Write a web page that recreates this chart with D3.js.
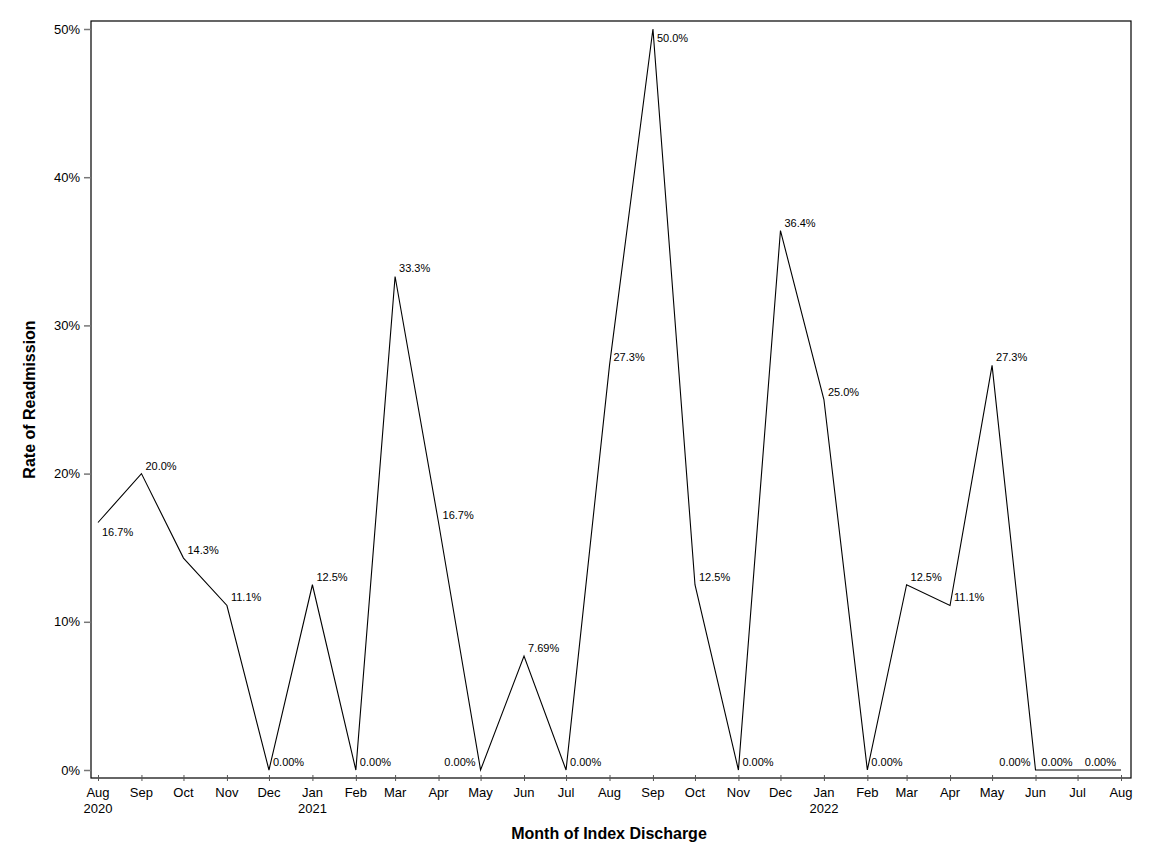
<!DOCTYPE html>
<html>
<head>
<meta charset="utf-8">
<script src="https://cdn.jsdelivr.net/npm/d3@7"></script>
<style>
  body { margin: 0; background: #fff; }
  text { font-family: "Liberation Sans", Arial, sans-serif; }
</style>
</head>
<body>
<div id="chart"></div>
<script>
// month of index discharge, Aug 2020 .. Aug 2022
const months = [
    "2020-08", "2020-09", "2020-10", "2020-11", "2020-12",
    "2021-01", "2021-02", "2021-03", "2021-04", "2021-05", "2021-06",
    "2021-07", "2021-08", "2021-09", "2021-10", "2021-11", "2021-12",
    "2022-01", "2022-02", "2022-03", "2022-04", "2022-05", "2022-06",
    "2022-07", "2022-08"
];

// readmission rate (fraction)
const rates = [
    0.167, 0.200, 0.143, 0.111, 0.000,
    0.125, 0.000, 0.333, 0.167, 0.000, 0.0769,
    0.000, 0.273, 0.500, 0.125, 0.000, 0.364,
    0.250, 0.000, 0.125, 0.111, 0.273, 0.000,
    0.000, 0.000
];

// where each point label sits: tr = above right, br = below right, l = left
const labelPlace = [
    "br", "tr", "tr", "tr", "tr",
    "tr", "tr", "tr", "tr", "l", "tr",
    "tr", "tr", "br", "tr", "tr", "tr",
    "tr", "tr", "tr", "tr", "tr", "l",
    "l", "l"
];

const yTicks = [0, 0.1, 0.2, 0.3, 0.4, 0.5];

const parseMonth = d3.timeParse("%Y-%m");
const data = months.map((m, i) => ({ date: parseMonth(m), rate: rates[i], place: labelPlace[i] }));

const width = 1152, height = 864;
const frame = { left: 91, top: 21, right: 1131, bottom: 778 };

const svg = d3.select("#chart")
    .append("svg")
    .attr("width", width)
    .attr("height", height);

const x = d3.scaleTime()
    .domain(d3.extent(data, d => d.date))
    .range([98, 1121]);

const y = d3.scaleLinear()
    .domain([0, 0.5])
    .range([770, 29]);

// frame
svg.append("rect")
    .attr("x", frame.left)
    .attr("y", frame.top)
    .attr("width", frame.right - frame.left)
    .attr("height", frame.bottom - frame.top)
    .attr("fill", "none")
    .attr("stroke", "#000")
    .attr("stroke-width", 1.2);

// x axis
const monthFmt = d3.timeFormat("%b");
const xAxis = svg.append("g")
    .attr("transform", `translate(0,${frame.bottom})`)
    .call(d3.axisBottom(x)
        .tickValues(data.map(d => d.date))
        .tickSizeInner(4)
        .tickSizeOuter(0)
        .tickFormat(""));
xAxis.select(".domain").remove();
xAxis.selectAll(".tick line")
    .attr("y1", -3)
    .attr("y2", 3)
    .attr("stroke", "#555");

const xLabels = svg.append("g");
data.forEach((d, i) => {
    xLabels.append("text")
        .attr("x", x(d.date))
        .attr("y", 797)
        .attr("text-anchor", "middle")
        .attr("font-size", 13)
        .attr("fill", "#000")
        .text(monthFmt(d.date));
    if (i === 0 || d.date.getMonth() === 0) {
        xLabels.append("text")
            .attr("x", x(d.date))
            .attr("y", 813)
            .attr("text-anchor", "middle")
            .attr("font-size", 13)
            .attr("fill", "#000")
            .text(d.date.getFullYear());
    }
});

// y axis
const yAxis = svg.append("g")
    .attr("transform", `translate(${frame.left},0)`)
    .call(d3.axisLeft(y)
        .tickValues(yTicks)
        .tickSizeInner(7)
        .tickSizeOuter(0)
        .tickPadding(4)
        .tickFormat(d3.format(".0%")));
yAxis.select(".domain").remove();
yAxis.selectAll(".tick line").attr("stroke", "#777").attr("stroke-width", 1.5);
yAxis.selectAll(".tick text")
    .attr("font-size", 13)
    .attr("font-family", "Liberation Sans, Arial, sans-serif")
    .attr("fill", "#000");

// axis titles
svg.append("text")
    .attr("x", 609)
    .attr("y", 839)
    .attr("text-anchor", "middle")
    .attr("font-size", 16)
    .attr("font-weight", "bold")
    .text("Month of Index Discharge");

svg.append("text")
    .attr("transform", `translate(35,${(frame.top + frame.bottom) / 2}) rotate(-90)`)
    .attr("text-anchor", "middle")
    .attr("font-size", 16)
    .attr("font-weight", "bold")
    .text("Rate of Readmission");

// line
const line = d3.line()
    .x(d => x(d.date))
    .y(d => y(d.rate));

svg.append("path")
    .datum(data)
    .attr("fill", "none")
    .attr("stroke", "#000")
    .attr("stroke-width", 1.1)
    .attr("stroke-linejoin", "miter")
    .attr("d", line);

// point labels
const pct = d3.format(".3p");
svg.append("g")
    .selectAll("text")
    .data(data)
    .enter()
    .append("text")
    .attr("x", d => d.place === "l" ? x(d.date) - 5 : x(d.date) + 4)
    .attr("y", d => d.place === "br" ? y(d.rate) + 13 : y(d.rate) - 4)
    .attr("text-anchor", d => d.place === "l" ? "end" : "start")
    .attr("font-size", 11)
    .attr("fill", "#000")
    .text(d => pct(d.rate));
</script>
</body>
</html>
